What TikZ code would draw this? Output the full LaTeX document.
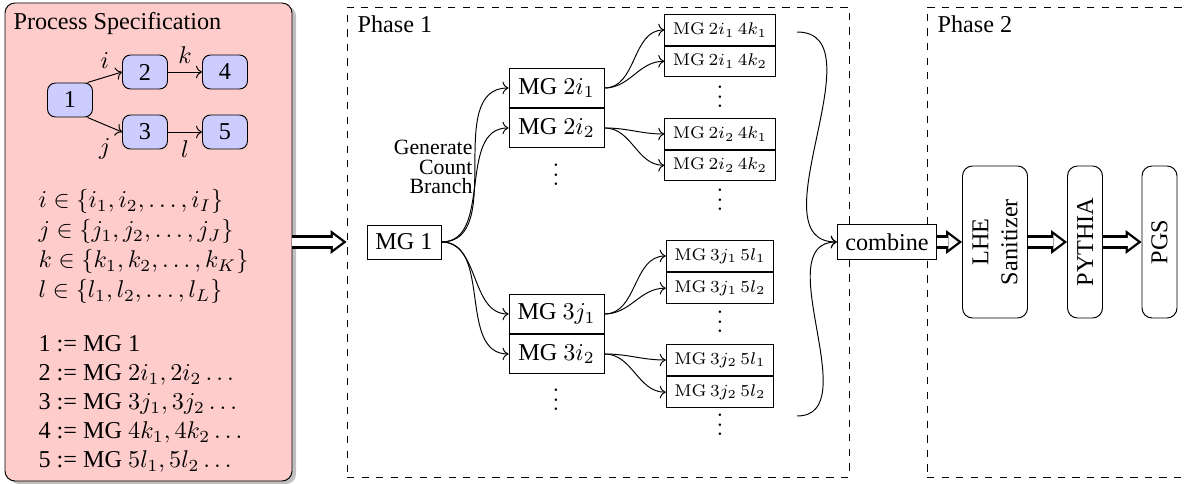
\documentclass[tikz,border=0pt]{standalone}
\usepackage[no-math]{fontspec}
\setmainfont{Liberation Serif}
\usetikzlibrary{arrows.meta, positioning, shadows}
\definecolor{specred}{HTML}{FFCCCC}
\definecolor{stageblue}{HTML}{CCCCFF}
\newlength\px
\setlength\px{0.413pt}
\newcommand{\gapdots}{\vbox{\baselineskip4pt\lineskiplimit0pt\hbox{$.$}\hbox{$.$}\hbox{$.$}}}
\tikzstyle{specbox} = [rectangle, rounded corners=10\px, draw, fill=specred, minimum width=287\px, minimum height=478\px, drop shadow={shadow xshift=4\px, shadow yshift=-3\px, fill=black, opacity=0.25}]
\tikzstyle{stage} = [rectangle, rounded corners=8\px, draw, fill=stageblue, minimum width=45\px, minimum height=34\px]
\tikzstyle{phase} = [rectangle, draw, dashed, minimum height=470\px]
\tikzstyle{mgbox} = [rectangle, draw, fill=white, minimum width=95\px, minimum height=39\px]
\tikzstyle{subbox} = [rectangle, draw, fill=white, minimum width=102\px, minimum height=29\px, font=\scriptsize]
\tikzstyle{tool} = [rectangle, draw, rounded corners=10\px, rotate=90, minimum width=152\px, align=center]
\tikzstyle{gapdot} = [inner sep=0pt]
\tikzstyle{link} = [->]
\tikzstyle{pipe} = [line width=5.4pt, -{Triangle[length=6.6pt, width=9.9pt, line width=0pt]},
  postaction={draw=white, line width=3.5pt, shorten >=1.58pt, -{Triangle[length=4.07pt, width=6.1pt, line width=0pt]}}]

\begin{document}
\begin{tikzpicture}[x=0.413pt, y=-0.413pt, node distance=0pt]
  \useasboundingbox (0,0) rectangle (1185,484);
  % process specification
  \node (spec) [specbox] at (148.5,242) {};
  \node (spectitle) [anchor=north west] at (5,4) {Process Specification};
  \node (one) [stage] at (70,100) {1};
  \node (two) [stage] at (145,72) {2};
  \node (three) [stage] at (145,132) {3};
  \node (four) [stage] at (225,72) {4};
  \node (five) [stage] at (225,132) {5};
  \draw [link] (one.45) -- node[above] {$i$} (two.west);
  \draw [link] (one.-45) -- node[below, yshift=-2pt] {$j$} (three.west);
  \draw [link] (two) -- node[above] {$k$} (four);
  \draw [link] (three) -- node[below] {$l$} (five);
  \node (sets) [anchor=north west, align=left] at (30,181) {$i \in \{i_1, i_2, \ldots, i_I\}$\\[0.4pt]
    $j \in \{j_1, j_2, \ldots, j_J\}$\\[0.4pt]
    $k \in \{k_1, k_2, \ldots, k_K\}$\\[0.4pt]
    $l \in \{l_1, l_2, \ldots, l_L\}$};
  \node (defs) [anchor=north west, align=left] at (30,327) {1 := MG 1\\
    2 := MG $2i_1, 2i_2 \ldots$\\
    3 := MG $3j_1, 3j_2 \ldots$\\
    4 := MG $4k_1, 4k_2 \ldots$\\
    5 := MG $5l_1, 5l_2 \ldots$};

  % phase frames
  \node (phaseone) [phase, minimum width=502\px] at (598,242) {};
  \node (phaseonelabel) [anchor=north west] at (349,7) {Phase 1};
  \node (phasetwo) [phase, minimum width=270\px] at (1062,242) {};
  \node (phasetwolabel) [anchor=north west] at (929,7) {Phase 2};
  \draw [pipe] (spec) -- (phaseone);

  % phase 1
  \node (mgone) [mgbox, minimum width=74\px, minimum height=34\px] at (404,242) {MG 1};
  \node (mgtwoa) [mgbox] at (556.5,88) {MG $2i_1$};
  \node (mgtwob) [mgbox, below=of mgtwoa] {MG $2i_2$};
  \node (mgtwodots) [gapdot] at (556,175) {\gapdots};
  \node (mgthreea) [mgbox] at (556.5,314) {MG $3j_1$};
  \node (mgthreeb) [mgbox, below=of mgthreea] {MG $3i_2$};
  \node (mgthreedots) [gapdot] at (556,400) {\gapdots};
  \node (branchlabel) [anchor=east, align=right, font=\small] at (481,167) {Generate\\[-3pt]Count\\[-3pt]Branch};
  \draw [link] (mgone.east) to[out=0, in=180] (mgtwoa.west);
  \draw [link] (mgone.east) to[out=0, in=180] (mgtwob.west);
  \draw [link] (mgone.east) to[out=0, in=180] (mgthreea.west);
  \draw [link] (mgone.east) to[out=0, in=180] (mgthreeb.west);

  \node (ionekone) [subbox] at (720,30) {$\mathrm{MG}\,2i_1\,4k_1$};
  \node (ionektwo) [subbox, below=of ionekone] {$\mathrm{MG}\,2i_1\,4k_2$};
  \node (ionedots) [gapdot] at (720,97) {\gapdots};
  \node (itwokone) [subbox] at (720,134) {$\mathrm{MG}\,2i_2\,4k_1$};
  \node (itwoktwo) [subbox, below=of itwokone] {$\mathrm{MG}\,2i_2\,4k_2$};
  \node (itwodots) [gapdot] at (720,200) {\gapdots};
  \node (jonelone) [subbox] at (720,256) {$\mathrm{MG}\,3j_1\,5l_1$};
  \node (joneltwo) [subbox, below=of jonelone] {$\mathrm{MG}\,3j_1\,5l_2$};
  \node (jonedots) [gapdot] at (720,322) {\gapdots};
  \node (jtwolone) [subbox] at (720,360) {$\mathrm{MG}\,3j_2\,5l_1$};
  \node (jtwoltwo) [subbox, below=of jtwolone] {$\mathrm{MG}\,3j_2\,5l_2$};
  \node (jtwodots) [gapdot] at (720,425) {\gapdots};
  \draw [link] (mgtwoa.east) to[out=0, in=180] (ionekone.west);
  \draw [link] (mgtwoa.east) to[out=0, in=180] (ionektwo.west);
  \draw [link] (mgtwob.east) to[out=0, in=180] (itwokone.west);
  \draw [link] (mgtwob.east) to[out=0, in=180] (itwoktwo.west);
  \draw [link] (mgthreea.east) to[out=0, in=180] (jonelone.west);
  \draw [link] (mgthreea.east) to[out=0, in=180] (joneltwo.west);
  \draw [link] (mgthreeb.east) to[out=0, in=180] (jtwolone.west);
  \draw [link] (mgthreeb.east) to[out=0, in=180] (jtwoltwo.west);

  \coordinate (gathertop) at (797,32);
  \coordinate (gatherbot) at (797,416);
  \node (combine) [mgbox, minimum width=98\px, minimum height=35\px] at (887,242) {combine};
  \draw [link] (gathertop) to[out=0, in=180] (combine.west);
  \draw [link] (gatherbot) to[out=0, in=180] (combine.west);

  % phase 2
  \node (sanitizer) [tool, minimum height=65\px] at (995,242) {LHE\\Sanitizer};
  \node (pythia) [tool, minimum height=35\px] at (1085,242) {PYTHIA};
  \node (pgs) [tool, minimum height=35\px] at (1159.5,242) {PGS};
  \draw [pipe] (combine) -- (sanitizer);
  \draw [pipe] (sanitizer) -- (pythia);
  \draw [pipe] (pythia) -- (pgs);
\end{tikzpicture}
\end{document}
